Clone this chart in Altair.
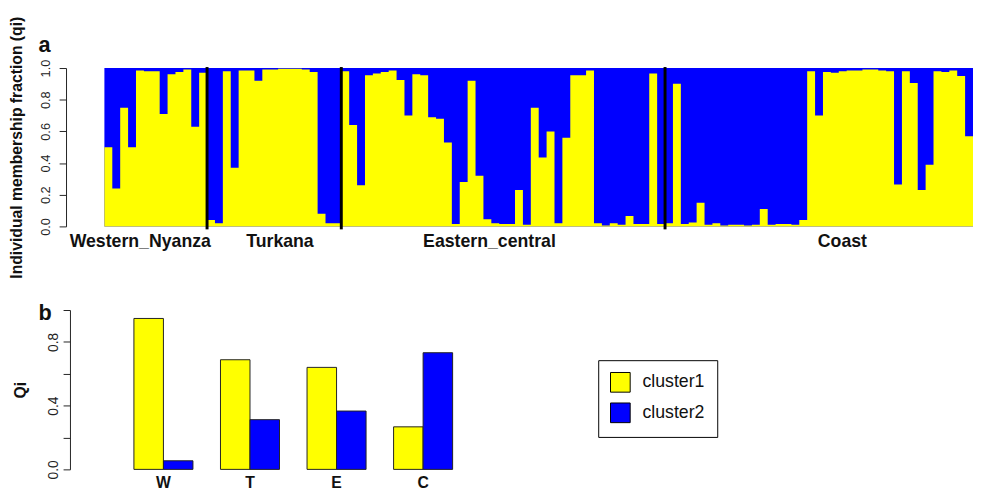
import altair as alt
import pandas as pd

# ---------------- data ----------------
pop_names = ["Western_Nyanza", "Turkana", "Eastern_central", "Coast"]
q_western = [0.50, 0.24, 0.75, 0.50, 0.985, 0.98, 0.98, 0.71, 0.96, 0.975, 0.99, 0.63, 0.97]
q_turkana = [0.04, 0.02, 0.98, 0.37, 0.985, 0.985, 0.92, 0.99, 0.99, 0.995, 0.995, 0.995,
             0.99, 0.975, 0.08, 0.02, 0.02]
q_eastern = [0.98, 0.64, 0.26, 0.955, 0.965, 0.975, 0.985, 0.925, 0.70, 0.96, 0.955, 0.69,
             0.68, 0.53, 0.015, 0.28, 0.92, 0.32, 0.045, 0.02, 0.015, 0.015, 0.23, 0.01,
             0.75, 0.435, 0.60, 0.02, 0.56, 0.955, 0.955, 0.985, 0.02, 0.005, 0.02, 0.01,
             0.065, 0.015, 0.015, 0.965, 0.015]
q_coast = [0.02, 0.90, 0.015, 0.025, 0.15, 0.01, 0.02, 0.005, 0.01, 0.01, 0.005, 0.01,
           0.11, 0.01, 0.015, 0.015, 0.01, 0.04, 0.98, 0.70, 0.975, 0.97, 0.98, 0.985,
           0.985, 0.99, 0.99, 0.985, 0.98, 0.265, 0.98, 0.905, 0.23, 0.39, 0.98, 0.975,
           0.985, 0.95, 0.57]
label_pos = [4.48, 22.17, 48.7, 93.4]  # where the population names sit (individual index units)

pop_short = ["W", "T", "E", "C"]
cluster_names = ["cluster1", "cluster2"]
Q_cluster1 = [0.947, 0.688, 0.640, 0.267]
Q_cluster2 = [0.054, 0.312, 0.366, 0.732]

YELLOW = "#FFFF00"
BLUE = "#0000FF"
FONT = "Liberation Sans"

# ---------------- top panel (a) ----------------
groups = [q_western, q_turkana, q_eastern, q_coast]
q_all = [v for g in groups for v in g]
N = len(q_all)
boundaries = []
acc = 0
for g in groups[:-1]:
    acc += len(g)
    boundaries.append(acc)

top_df = pd.DataFrame({
    "i": list(range(N + 1)),
    "q": q_all + [q_all[-1]],
    "top": [1.0] * (N + 1),
})
sep_df = pd.DataFrame({"b": boundaries})

xs_top = alt.Scale(domain=[0, N], nice=False, zero=False)
ys = alt.Scale(domain=[0, 1], nice=False)

name_expr = "[" + ",".join("'%s'" % n for n in pop_names) + "][indexof([" + \
    ",".join(str(p) for p in label_pos) + "], datum.value)]"

top_x_axis = alt.Axis(values=label_pos, labelExpr=name_expr, domain=False, ticks=False,
                      grid=False, title=None, labelFontSize=18, labelFontWeight="bold",
                      labelColor="#111", labelPadding=6, labelOverlap=False,
                      labelFlush=False, labelBound=False, labelAngle=0)
top_y_axis = alt.Axis(values=[0, 0.2, 0.4, 0.6, 0.8, 1.0], format=".1f", offset=39,
                      tickSize=7, labelAngle=270, labelAlign="center",
                      labelBaseline="alphabetic", labelPadding=10, labelFontSize=13,
                      labelColor="#222", domainColor="#222", tickColor="#222",
                      grid=False, title="Individual membership fraction (qi)",
                      titleFontSize=16, titleFontWeight="bold", titleColor="#111",
                      titlePadding=15)

blue_layer = alt.Chart(top_df).mark_area(color=BLUE, interpolate="step-after").encode(
    x=alt.X("i:Q", scale=xs_top, axis=top_x_axis),
    y=alt.Y("top:Q", scale=ys, axis=top_y_axis),
)
yellow_layer = alt.Chart(top_df).mark_area(color=YELLOW, interpolate="step-after").encode(
    x=alt.X("i:Q", scale=xs_top, axis=top_x_axis),
    y=alt.Y("q:Q", scale=ys, axis=top_y_axis),
)
sep_layer = alt.Chart(sep_df).mark_rule(color="black", strokeWidth=3).encode(
    x=alt.X("b:Q", scale=xs_top, axis=top_x_axis),
    y=alt.value(-1),
    y2=alt.value(164),
)

top = alt.layer(blue_layer, yellow_layer, sep_layer).properties(
    width=883, height=161,
    title=alt.TitleParams("a", anchor="start", frame="group", fontSize=22,
                          fontWeight="bold", color="#111", dx=-67, offset=-59,
                          baseline="alphabetic"),
)

# ---------------- bottom panel (b) ----------------
bot_rows = []
for p, c1, c2 in zip(pop_short, Q_cluster1, Q_cluster2):
    bot_rows.append({"pop": p, "cluster": cluster_names[0], "val": c1})
    bot_rows.append({"pop": p, "cluster": cluster_names[1], "val": c2})
bot_df = pd.DataFrame(bot_rows)

bottom = alt.Chart(bot_df).mark_bar(stroke="#222", strokeWidth=1).encode(
    x=alt.X("pop:N", sort=pop_short,
            scale=alt.Scale(paddingInner=0.318, paddingOuter=0.341),
            axis=alt.Axis(title=None, domain=False, ticks=False, labelAngle=0,
                          labelFontSize=16, labelFontWeight="bold", labelColor="#111",
                          labelPadding=5)),
    xOffset=alt.XOffset("cluster:N", sort=cluster_names,
                        scale=alt.Scale(paddingInner=0, paddingOuter=0)),
    y=alt.Y("val:Q", scale=alt.Scale(domain=[0, 1], nice=False),
            axis=alt.Axis(values=[0, 0.2, 0.4, 0.6, 0.8, 1.0],
                          labelExpr="round(datum.value*10) % 4 == 0 ? format(datum.value, '.1f') : ''",
                          offset=35, tickSize=7, labelAngle=270, labelAlign="center",
                          labelBaseline="alphabetic", labelPadding=6, labelFontSize=14,
                          labelColor="#222", domainColor="#222", tickColor="#222",
                          grid=False, title="Qi", titleFontSize=16,
                          titleFontWeight="bold", titleColor="#111", titlePadding=18)),
    color=alt.Color("cluster:N", sort=cluster_names,
                    scale=alt.Scale(domain=cluster_names, range=[YELLOW, BLUE]),
                    legend=alt.Legend(title=None, orient="none", legendX=502, legendY=51,
                                      symbolType="square", symbolSize=400,
                                      symbolStrokeColor="black", symbolStrokeWidth=1,
                                      symbolOpacity=1, labelFontSize=18,
                                      labelColor="#111", rowPadding=6, labelOffset=12,
                                      padding=12, strokeColor="black")),
).properties(
    width=384, height=162,
    title=alt.TitleParams("b", anchor="start", frame="group", fontSize=22,
                          fontWeight="bold", color="#111", dx=-67, offset=0, dy=33,
                          baseline="alphabetic"),
)

chart = alt.vconcat(top, bottom, spacing=85, bounds="flush").resolve_scale(
    x="independent", y="independent", color="independent"
).properties(
    padding={"left": 0, "top": 4, "right": 0, "bottom": 0}
).configure(font=FONT).configure_view(strokeWidth=0)

chart.save("out.html", embed_options={"renderer": "svg", "actions": False})
